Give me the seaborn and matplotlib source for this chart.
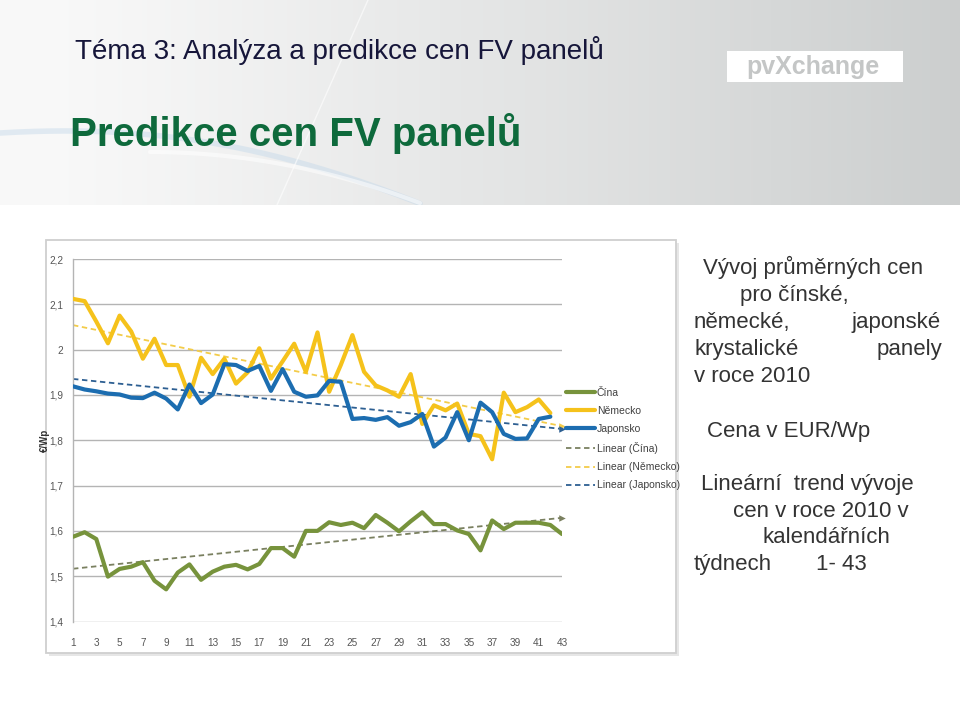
import numpy as np
import pandas as pd
import matplotlib
matplotlib.use("Agg")
import matplotlib.pyplot as plt
from matplotlib.lines import Line2D
from matplotlib.patches import Rectangle
import seaborn as sns

# ---------------- data ----------------
weeks_all = list(range(1, 44))
weeks_42 = list(range(1, 43))

cina = [1.587, 1.597, 1.582, 1.499, 1.516, 1.521, 1.531, 1.490, 1.471, 1.508,
        1.526, 1.492, 1.510, 1.521, 1.525, 1.515, 1.527, 1.562, 1.562, 1.543,
        1.600, 1.600, 1.619, 1.613, 1.618, 1.606, 1.635, 1.618, 1.599, 1.621,
        1.641, 1.615, 1.615, 1.601, 1.593, 1.557, 1.623, 1.604, 1.618, 1.618,
        1.618, 1.613, 1.593]

nemecko = [2.112, 2.107, 2.062, 2.014, 2.075, 2.040, 1.980, 2.024, 1.966, 1.966,
           1.896, 1.982, 1.946, 1.980, 1.925, 1.950, 2.003, 1.936, 1.974, 2.013,
           1.951, 2.038, 1.907, 1.966, 2.032, 1.951, 1.921, 1.910, 1.896, 1.946,
           1.836, 1.877, 1.866, 1.881, 1.814, 1.809, 1.758, 1.905, 1.862, 1.873,
           1.890, 1.860]

japonsko = [1.919, 1.912, 1.908, 1.903, 1.901, 1.894, 1.893, 1.905, 1.892, 1.868,
            1.923, 1.882, 1.901, 1.968, 1.966, 1.953, 1.964, 1.909, 1.957, 1.907,
            1.896, 1.899, 1.931, 1.929, 1.847, 1.849, 1.845, 1.851, 1.832, 1.840,
            1.858, 1.786, 1.806, 1.862, 1.800, 1.883, 1.862, 1.814, 1.803, 1.804,
            1.847, 1.852]

series_names = ["Čína", "Německo", "Japonsko"]
trend_names = ["Linear (Čína)", "Linear (Německo)", "Linear (Japonsko)"]
y_ticks = [1.4, 1.5, 1.6, 1.7, 1.8, 1.9, 2.0, 2.1, 2.2]
y_tick_labels = ["1,4", "1,5", "1,6", "1,7", "1,8", "1,9", "2", "2,1", "2,2"]
x_ticks = list(range(1, 44, 2))

colors = {"Čína": "#77933c", "Německo": "#f5c21b", "Japonsko": "#1c6db0"}
trend_colors = {"Čína": "#7a8060", "Německo": "#f3cc4a", "Japonsko": "#2d5f92"}

# ---------------- build frames ----------------
df = pd.concat([
    pd.DataFrame({"week": weeks_all, "price": cina, "country": "Čína"}),
    pd.DataFrame({"week": weeks_42, "price": nemecko, "country": "Německo"}),
    pd.DataFrame({"week": weeks_42, "price": japonsko, "country": "Japonsko"}),
], ignore_index=True)

trend_rows = []
for name, w, v in [("Čína", weeks_all, cina), ("Německo", weeks_42, nemecko),
                   ("Japonsko", weeks_42, japonsko)]:
    k, q = np.polyfit(w, v, 1)
    wt = np.array(weeks_all, dtype=float)
    trend_rows.append(pd.DataFrame({"week": wt, "price": k * wt + q, "country": name}))
tdf = pd.concat(trend_rows, ignore_index=True)

# ---------------- figure ----------------
sns.set_theme(style="white")
plt.rcParams["font.family"] = ["Liberation Sans", "DejaVu Sans"]

W, H = 960, 718
fig = plt.figure(figsize=(W / 100, H / 100), dpi=100)
fig.patch.set_facecolor("white")

bg = fig.add_axes([0, 0, 1, 1], zorder=0)
bg.set_xlim(0, W)
bg.set_ylim(H, 0)
bg.axis("off")

# banner gradient
grad_x = np.linspace(0, 1, 400)
c0 = np.array([0.975, 0.975, 0.975])
c1 = np.array([0.80, 0.81, 0.81])
t = np.clip((grad_x - 0.05) / 0.95, 0, 1) ** 1.1
grad = (c0[None, :] * (1 - t[:, None]) + c1[None, :] * t[:, None])[None, :, :]
bg.imshow(grad, extent=[0, W, 205, 0], aspect="auto", zorder=0)
banner_clip = Rectangle((0, 0), W, 205, transform=bg.transData)
# swoosh
xs = np.linspace(0, 420, 200)
ys = 133 - 8 * np.sin(np.pi * xs / 420) + 0.0004 * xs ** 2
sw1, = bg.plot(xs, ys, color="#c3d8ea", lw=4, alpha=0.45, zorder=1)
sw1.set_clip_path(banner_clip)
xs2 = np.linspace(150, 420, 100)
ys2 = 152 + 0.0007 * (xs2 - 150) ** 2
sw2, = bg.plot(xs2, ys2, color="white", lw=3, alpha=0.55, zorder=1)
sw2.set_clip_path(banner_clip)
bg.plot([368, 277], [0, 205], color="white", lw=1.0, alpha=0.6, zorder=1)

# logo
bg.add_patch(Rectangle((727, 51), 176, 31, facecolor="white", edgecolor="none", zorder=2))
bg.text(813, 67, "pvXchange", fontsize=18, fontweight="bold", color="#c4c6c6",
        ha="center", va="center", zorder=3)

# titles
bg.text(75, 59, "Téma 3: Analýza a predikce cen FV panelů", fontsize=20,
        color="#16163a", ha="left", va="baseline", zorder=3)
bg.text(70, 146, "Predikce cen FV panelů", fontsize=29, fontweight="bold",
        color="#0e6a3c", ha="left", va="baseline", zorder=3)

# chart frame with shadow
bg.add_patch(Rectangle((49, 243), 630, 413, facecolor="#e6e6e6", edgecolor="none", zorder=1))
bg.add_patch(Rectangle((46, 240), 630, 413, facecolor="white", edgecolor="#cfcfcf",
                       lw=1.3, zorder=2))

# right-hand text (justified look)
tc = "#333333"
fs = 16
bg.text(703, 274, "Vývoj průměrných cen", fontsize=fs, color=tc, ha="left", va="baseline")
bg.text(740, 301, "pro čínské,", fontsize=fs, color=tc, ha="left", va="baseline")
bg.text(694, 328, "německé,", fontsize=fs, color=tc, ha="left", va="baseline")
bg.text(941, 328, "japonské", fontsize=fs, color=tc, ha="right", va="baseline")
bg.text(694, 355, "krystalické", fontsize=fs, color=tc, ha="left", va="baseline")
bg.text(942, 355, "panely", fontsize=fs, color=tc, ha="right", va="baseline")
bg.text(694, 382, "v roce 2010", fontsize=fs, color=tc, ha="left", va="baseline")
bg.text(707, 437, "Cena v EUR/Wp", fontsize=fs, color=tc, ha="left", va="baseline")
bg.text(701, 490, "Lineární  trend vývoje", fontsize=fs, color=tc, ha="left", va="baseline")
bg.text(733, 517, "cen v roce 2010 v", fontsize=fs, color=tc, ha="left", va="baseline")
bg.text(762, 543, "kalendářních", fontsize=fs, color=tc, ha="left", va="baseline")
bg.text(694, 570, "týdnech", fontsize=fs, color=tc, ha="left", va="baseline")
bg.text(867, 570, "1- 43", fontsize=fs, color=tc, ha="right", va="baseline")

# ---------------- chart axes ----------------
left, right, top, bottom = 73, 562, 259, 621.5
ax = fig.add_axes([left / W, (H - bottom) / H, (right - left) / W, (bottom - top) / H],
                  zorder=5)
ax.set_facecolor("none")

for y in y_ticks:
    ax.axhline(y, color="#b4b4b4", lw=1.0, zorder=1)

sns.lineplot(data=tdf, x="week", y="price", hue="country", palette=trend_colors,
             hue_order=series_names, ax=ax, lw=1.3, legend=False, zorder=2,
             estimator=None, sort=False)
for line in ax.get_lines()[-3:]:
    line.set_dashes([3, 2])

sns.lineplot(data=df, x="week", y="price", hue="country", palette=colors,
             hue_order=series_names, ax=ax, lw=3.0, legend=False, zorder=3,
             estimator=None, sort=False)

# arrow heads at trend ends
for name in series_names:
    sub = tdf[tdf.country == name]
    ax.scatter([sub.week.iloc[-1]], [sub.price.iloc[-1]], marker=">", s=22,
               color=trend_colors[name], zorder=4, clip_on=False, linewidths=0)

ax.set_xlim(1, 43)
ax.set_ylim(1.4, 2.2)
ax.set_yticks(y_ticks)
ax.set_yticklabels(y_tick_labels)
ax.set_xticks(x_ticks)
ax.set_xticklabels([str(v) for v in x_ticks])
ax.tick_params(axis="both", length=0, labelsize=7.2, labelcolor="#555555")
ax.tick_params(axis="y", pad=7)
ax.tick_params(axis="x", pad=12)
ax.set_xlabel("")
ax.set_ylabel("€/Wp", fontsize=7, fontweight="bold", color="#333333")
ax.yaxis.set_label_coords(-0.047, 0.5)
for s in ["top", "right", "bottom"]:
    ax.spines[s].set_visible(False)
ax.spines["left"].set_color("#b4b4b4")
ax.spines["left"].set_linewidth(1.0)

handles = [Line2D([], [], color=colors[n], lw=3.0) for n in series_names] + \
          [Line2D([], [], color=trend_colors[n], lw=1.3, ls=(0, (3, 2))) for n in series_names]
labels = series_names + trend_names
leg = ax.legend(handles, labels, loc="upper left", bbox_to_anchor=(1.008, 0.645),
                frameon=False, fontsize=7.5, handlelength=2.8, handletextpad=0.15,
                labelspacing=0.78, borderaxespad=0, borderpad=0)
for txt in leg.get_texts():
    txt.set_color("#404040")

fig.savefig("out.png", dpi=100)
